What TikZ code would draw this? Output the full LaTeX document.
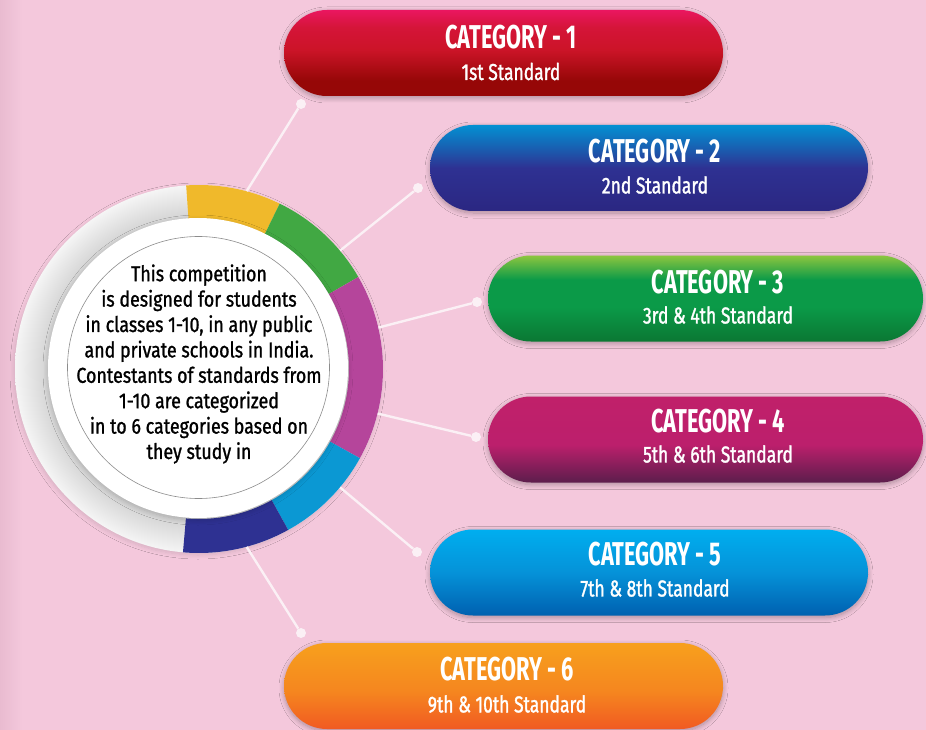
\documentclass[tikz,border=0pt]{standalone}
\usepackage{fontspec}
\setmainfont{Fira Sans}
\newfontfamily\titlefont[FakeStretch=0.66]{Fira Sans}
\newfontfamily\subfont[FakeStretch=0.76,FakeBold=1.3]{Fira Sans}
\newfontfamily\ctrfont[FakeStretch=0.83,FakeBold=1.1]{Fira Sans}
\usetikzlibrary{shadows.blur}
\definecolor{bg}{HTML}{F4C8DC}
\definecolor{bgdark}{HTML}{E9BBD0}
\definecolor{dotwhite}{HTML}{FBF0F5}
\definecolor{segyellow}{HTML}{F0B92B}
\definecolor{seggreen}{HTML}{41A843}
\definecolor{segmag}{HTML}{B5459B}
\definecolor{segcyan}{HTML}{0B98D3}
\definecolor{segnavy}{HTML}{2E3192}
\definecolor{p1a}{HTML}{EA1660}\definecolor{p1b}{HTML}{CC1428}\definecolor{p1c}{HTML}{960707}
\definecolor{p2a}{HTML}{0390D2}\definecolor{p2b}{HTML}{2E3192}\definecolor{p2c}{HTML}{2B2782}
\definecolor{p3a}{HTML}{8DC63F}\definecolor{p3b}{HTML}{0B9A48}\definecolor{p3c}{HTML}{0B7733}
\definecolor{p4a}{HTML}{C0206A}\definecolor{p4b}{HTML}{BC1F6C}\definecolor{p4c}{HTML}{5C1E4C}
\definecolor{p5a}{HTML}{00AEEF}\definecolor{p5b}{HTML}{0592D8}\definecolor{p5c}{HTML}{0060B0}
\definecolor{p6a}{HTML}{F7A01D}\definecolor{p6b}{HTML}{F5861F}\definecolor{p6c}{HTML}{F15A22}
% visible range of a TikZ shading is 25bp..75bp
\pgfdeclareverticalshading{sh1}{100bp}{color(0bp)=(p1c); color(34bp)=(p1c); color(52bp)=(p1b); color(65bp)=(p1b!70!p1a); color(75bp)=(p1a); color(100bp)=(p1a)}
\pgfdeclareverticalshading{sh2}{100bp}{color(0bp)=(p2c); color(25bp)=(p2c); color(50bp)=(p2b); color(62bp)=(p2b!50!p2a); color(75bp)=(p2a); color(100bp)=(p2a)}
\pgfdeclareverticalshading{sh3}{100bp}{color(0bp)=(p3c); color(25bp)=(p3c); color(45bp)=(p3b); color(61bp)=(p3b); color(75bp)=(p3a); color(100bp)=(p3a)}
\pgfdeclareverticalshading{sh4}{100bp}{color(0bp)=(p4c); color(25bp)=(p4c); color(47bp)=(p4b); color(75bp)=(p4a); color(100bp)=(p4a)}
\pgfdeclareverticalshading{sh5}{100bp}{color(0bp)=(p5c); color(25bp)=(p5c); color(50bp)=(p5b); color(75bp)=(p5a); color(100bp)=(p5a)}
\pgfdeclareverticalshading{sh6}{100bp}{color(0bp)=(p6c); color(25bp)=(p6c); color(47bp)=(p6b); color(75bp)=(p6a); color(100bp)=(p6a)}
\pgfdeclareradialshading{ringshade}{\pgfpoint{0bp}{0bp}}{color(0bp)=(white); color(20.3bp)=(white!82!black); color(25bp)=(white!96!black); color(50bp)=(white!96!black)}
\begin{document}
\begin{tikzpicture}[x=1pt,y=-1pt,
  pill/.style={rounded corners=43pt, minimum height=86pt, inner sep=0pt,
    blur shadow={shadow blur steps=10, shadow xshift=0pt, shadow yshift=-2pt, shadow opacity=30, shadow blur radius=5pt}},
  ttl/.style={text=white, font=\titlefont\bfseries\fontsize{33}{33}\selectfont, inner sep=0pt},
  sub/.style={text=white, font=\subfont\fontsize{23}{23}\selectfont, inner sep=0pt},
  dotn/.style={circle, fill=dotwhite, minimum size=10pt, inner sep=0pt},
  conn/.style={draw=dotwhite, line width=2.4pt},
]
\fill[bg] (0,0) rectangle (926,730);
\shade[left color=bgdark, right color=bg] (0,0) rectangle (22,730);
\useasboundingbox (0,0) rectangle (926,730);

% ring
\node[circle, minimum size=368pt, inner sep=0pt, shading=ringshade,
  blur shadow={shadow blur steps=8, shadow xshift=-1pt, shadow yshift=-2pt, shadow opacity=12, shadow blur radius=4pt}] (ring) at (199,369) {};
\begin{scope}[shift={(199,369)}]
\foreach \a/\b/\c in {64/94/segyellow, 30/64/seggreen, -29/30/segmag, -61/-29/segcyan, -95/-61/segnavy}
  \fill[\c] (\a:184pt) arc[start angle=\a, end angle=\b, radius=184pt] -- (\b:150pt) arc[start angle=\b, end angle=\a, radius=150pt] -- cycle;
\end{scope}
\node[circle, fill=white, minimum size=300pt, inner sep=0pt,
  blur shadow={shadow blur steps=10, shadow xshift=0pt, shadow yshift=-2pt, shadow opacity=18, shadow blur radius=5pt}] (inner) at (198,368) {};
\node[circle, draw=black!45, line width=0.6pt, minimum size=262pt, inner sep=0pt] (thin) at (198.5,367.5) {};
\node[align=center, inner sep=0pt, font=\ctrfont\fontsize{21.5}{25.4}\selectfont] (ctext) at (199,364)
 {This competition\\is designed for students\\in classes 1-10, in any public\\and private schools in India.\\Contestants of standards from\\1-10 are categorized\\in to 6 categories based on\\they study in};

% pills
\node[pill, minimum width=439pt, shading=sh1] (p1) at (503.5,53) {};
\node[pill, minimum width=438pt, shading=sh2] (p2) at (649,168) {};
\node[pill, minimum width=435pt, shading=sh3] (p3) at (705.5,298.5) {};
\node[pill, minimum width=435pt, shading=sh4] (p4) at (705.5,439.5) {};
\node[pill, minimum width=438pt, shading=sh5] (p5) at (649,572.5) {};
\node[pill, minimum width=439pt, shading=sh6] (p6) at (503.5,686) {};

\node[ttl] (t1) at (511,37) {CATEGORY - 1};
\node[sub] (s1) at (511,71.5) {1st Standard};
\node[ttl] (t2) at (655,151) {CATEGORY - 2};
\node[sub] (s2) at (655,185) {2nd Standard};
\node[ttl] (t3) at (718,282) {CATEGORY - 3};
\node[sub] (s3) at (718,315) {3rd \& 4th Standard};
\node[ttl] (t4) at (718,421) {CATEGORY - 4};
\node[sub] (s4) at (718,454) {5th \& 6th Standard};
\node[ttl] (t5) at (655,554) {CATEGORY - 5};
\node[sub] (s5) at (655,588) {7th \& 8th Standard};
\node[ttl] (t6) at (507,669.5) {CATEGORY - 6};
\node[sub] (s6) at (507,704) {9th \& 10th Standard};

% connectors
\node[dotn] (d1) at (301,104) {};
\node[dotn] (d2) at (418,188) {};
\node[dotn] (d3) at (477,302) {};
\node[dotn] (d4) at (476,437) {};
\node[dotn] (d5) at (417,552) {};
\node[dotn] (d6) at (301,633) {};
\draw[conn] (ring.75) -- (d1);
\draw[conn] (ring.40.6) -- (d2);
\draw[conn] (ring.13.4) -- (d3);
\draw[conn] (ring.-14) -- (d4);
\draw[conn] (ring.-40.6) -- (d5);
\draw[conn] (ring.-75) -- (d6);
\end{tikzpicture}
\end{document}
